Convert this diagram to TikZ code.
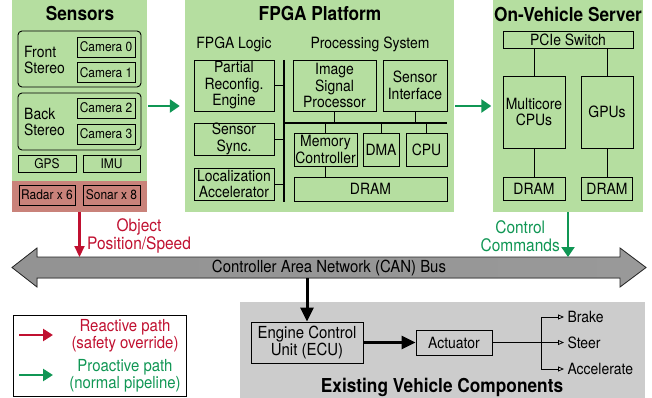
\documentclass[tikz,border=0pt]{standalone}
\usepackage{fontspec}
\setmainfont{TeX Gyre Heros}[FakeStretch=0.9]
\usepackage{xcolor}
\usepackage{tikz}
\usetikzlibrary{arrows.meta, calc}

\definecolor{panelGreen}{RGB}{181,222,160}
\definecolor{sensorRed}{RGB}{201,130,122}
\definecolor{vehicleGray}{RGB}{204,204,204}
\definecolor{reactRed}{RGB}{192,16,48}
\definecolor{proactGreen}{RGB}{16,150,84}

\def\boxFont{\fontsize{15.5}{16.5}\selectfont}
\def\smallFont{\fontsize{13.3}{14}\selectfont}
\def\titleFont{\fontsize{19.2}{20}\selectfont\bfseries}
\def\labelFont{\fontsize{17.2}{18}\selectfont}
\def\legendFont{\fontsize{16.6}{17}\selectfont}

\tikzset{
    sized/.style 2 args={minimum width=#1pt, minimum height=#2pt},
    panel/.style={inner sep=0, draw=none},
    box/.style={draw, line width=0.9pt, inner sep=0, align=center, font=\boxFont},
    smallBox/.style={box, font=\smallFont},
    title/.style={font=\titleFont, inner sep=0},
    busLine/.style={line width=2.6pt},
    tapLine/.style={line width=0.9pt},
    proactArrow/.style={proactGreen, line width=2.6pt, -{Triangle[length=10pt, width=13pt]}},
    reactArrow/.style={reactRed, line width=2.2pt, -{Triangle[length=11pt, width=10pt]}},
    heavyArrow/.style={line width=3pt, -{Triangle[length=14pt, width=13pt]}},
    outArrow/.style={line width=0.8pt, -{Triangle[open, length=6pt, width=5pt]}}
}

\begin{document}
\begin{tikzpicture}[x=1pt, y=-1pt]
    \useasboundingbox (0,0) rectangle (652,398);

    % Draw panels
    \node[panel, fill=panelGreen, sized={135}{212}] (sens) at (79.5,106) {};
    \node[panel, fill=sensorRed, sized={135}{31}] (sensRed) at (79.5,196.5) {};
    \node[panel, fill=panelGreen, sized={269}{212}] (fpga) at (319.5,106) {};
    \node[panel, fill=panelGreen, sized={150}{212}] (server) at (568,106) {};
    \node[panel, fill=vehicleGray, sized={405}{96}] (vehicle) at (442.5,350) {};

    \node[title] (sensTitle) at (80,14) {Sensors};
    \node[title] (fpgaTitle) at (320,14) {FPGA Platform};
    \node[title] (serverTitle) at (568,14) {On-Vehicle Server};
    \node[title] (vehicleTitle) at (442,387) {Existing Vehicle Components};

    % Sensors
    \node[box, rounded corners=4pt, sized={123}{56}] (front) at (79.5,59) {};
    \node[box, rounded corners=4pt, sized={123}{57}] (back) at (79.5,121.5) {};
    \node[font=\boxFont, align=left, inner sep=0, anchor=west] (frontLbl) at (24,60) {Front\\Stereo};
    \node[font=\boxFont, align=left, inner sep=0, anchor=west] (backLbl) at (24,122) {Back\\Stereo};
    \foreach \i/\y in {0/47, 1/72.5, 2/108, 3/134} {
        \node[smallBox, sized={58}{20}] (cam\i) at (106,\y) {Camera \i};
    }
    \node[smallBox, sized={58}{17}] (gps) at (47,163.5) {GPS};
    \node[smallBox, sized={57}{17}] (imu) at (111.5,163.5) {IMU};
    \node[smallBox, sized={56}{20}] (radar) at (47,195) {Radar x 6};
    \node[smallBox, sized={57}{20}] (sonar) at (111.5,195) {Sonar x 8};

    % FPGA platform
    \node[font=\boxFont] (logicLbl) at (234,44) {FPGA Logic};
    \node[font=\boxFont] (psLbl) at (370,44) {Processing System};
    \node[box, sized={80}{51}] (pre) at (234,85.5) {Partial\\Reconfig.\\Engine};
    \node[box, sized={80}{32}] (sync) at (234,139) {Sensor\\Sync.};
    \node[box, sized={80}{32}] (loc) at (234,184) {Localization\\Accelerator};
    \node[box, sized={83}{51}] (isp) at (334.5,85.5) {Image\\Signal\\Processor};
    \node[box, sized={64}{51}] (sif) at (415,85.5) {Sensor\\Interface};
    \node[box, sized={63}{33}] (mc) at (325.5,149.5) {Memory\\Controller};
    \node[box, sized={36}{33}] (dma) at (381,149.5) {DMA};
    \node[box, sized={41}{33}] (cpu) at (426.5,149.5) {CPU};
    \node[box, sized={153}{24}] (dram) at (370.5,189) {DRAM};

    \coordinate (vTop) at (284,60);
    \coordinate (vBot) at (284,202);
    \coordinate (hEnd) at (447,123);
    \draw[busLine] (vTop) -- (vBot);
    \draw[busLine] (vTop |- hEnd) -- (hEnd);
    \foreach \n in {pre, sync, loc} {
        \draw[tapLine] (\n.east) -- (\n.east -| vTop);
    }
    \foreach \n in {isp, sif} {
        \draw[tapLine] (\n.south) -- (\n.south |- hEnd);
    }
    \foreach \n in {mc, dma, cpu} {
        \draw[tapLine] (\n.north |- hEnd) -- (\n.north);
    }
    \draw[tapLine] (mc.south) -- (mc.south |- dram.north);

    % On-vehicle server
    \node[box, sized={130}{17}] (pcie) at (568,39.5) {PCIe Switch};
    \node[box, sized={62}{72}] (mcpu) at (534,112) {Multicore\\CPUs};
    \node[box, sized={52}{72}] (gpu) at (607,112) {GPUs};
    \node[box, sized={62}{23}] (dramA) at (534,188.5) {DRAM};
    \node[box, sized={51}{23}] (dramB) at (607,188.5) {DRAM};
    \foreach \n/\m in {mcpu/dramA, gpu/dramB} {
        \draw[tapLine] (pcie.south -| \n.north) -- (\n.north);
        \draw[tapLine] (\n.south) -- (\m.north);
    }

    % Draw CAN bus
    \coordinate (canTop) at (329,257);
    \coordinate (canBot) at (329,278);
    \filldraw[draw=black!85, line width=0.8pt, left color=gray!85, middle color=gray!12, right color=gray!80]
        (12,267.5) -- (37,248) -- (37,257) -- (620,257) -- (620,248) -- (646,267.5)
        -- (620,287) -- (620,278) -- (37,278) -- (37,287) -- cycle;
    \node[font=\fontsize{16.6}{17}\selectfont, inner sep=0] (can) at (329,268) {Controller Area Network (CAN) Bus};

    % Data paths
    \draw[proactArrow, shorten <=1pt, shorten >=5pt] (sens.east) -- (fpga.west);
    \draw[proactArrow, shorten <=1pt, shorten >=1.5pt] (fpga.east) -- (server.west);
    \draw[reactArrow] (sens.south) -- (sens.south |- canTop);
    \draw[proactArrow, line width=2.2pt] (server.south) -- (server.south |- canTop);
    \node[font=\labelFont, text=reactRed, align=center, inner sep=0, anchor=west] (objLbl) at (87,236) {Object\\Position/Speed};
    \node[font=\labelFont, text=proactGreen, align=center, inner sep=0, anchor=east] (cmdLbl) at (560,236) {Control\\Commands};

    % Existing vehicle components
    \node[box, font=\fontsize{16.6}{17.5}\selectfont, sized={112}{41}] (ecu) at (307,342.5) {Engine Control\\Unit (ECU)};
    \node[box, sized={76}{25}] (act) at (454,342.5) {Actuator};
    \draw[heavyArrow] (canBot -| ecu.north) -- (ecu.north);
    \draw[heavyArrow] (ecu.east) -- (ecu.east -| act.west);

    \coordinate (split) at (541,342.5);
    \draw[line width=0.8pt] (act.east) -- (split);
    \foreach \n/\t/\y in {brake/Brake/317, steer/Steer/342.5, accel/Accelerate/369} {
        \node[font=\boxFont, anchor=west] (\n) at (564,\y) {\t};
        \draw[outArrow] (split |- \n.west) -- (\n.west);
    }
    \draw[line width=0.8pt] (split |- brake.west) -- (split |- accel.west);

    % Draw legend
    \node[draw, line width=0.9pt, inner sep=0, sized={173}{81}] (legend) at (99.5,356) {};
    \coordinate (reactA) at (19,335);
    \coordinate (reactB) at (53,335);
    \coordinate (proactA) at (19,375);
    \coordinate (proactB) at (53,375);
    \draw[reactArrow, line width=2.6pt, -{Triangle[length=10pt, width=12pt]}] (reactA) -- (reactB);
    \draw[proactArrow, -{Triangle[length=10pt, width=12pt]}] (proactA) -- (proactB);
    \node[font=\legendFont, text=reactRed, align=center] (reactLbl) at (125,336) {Reactive path\\(safety override)};
    \node[font=\legendFont, text=proactGreen, align=center] (proactLbl) at (125,376) {Proactive path\\(normal pipeline)};
\end{tikzpicture}
\end{document}
